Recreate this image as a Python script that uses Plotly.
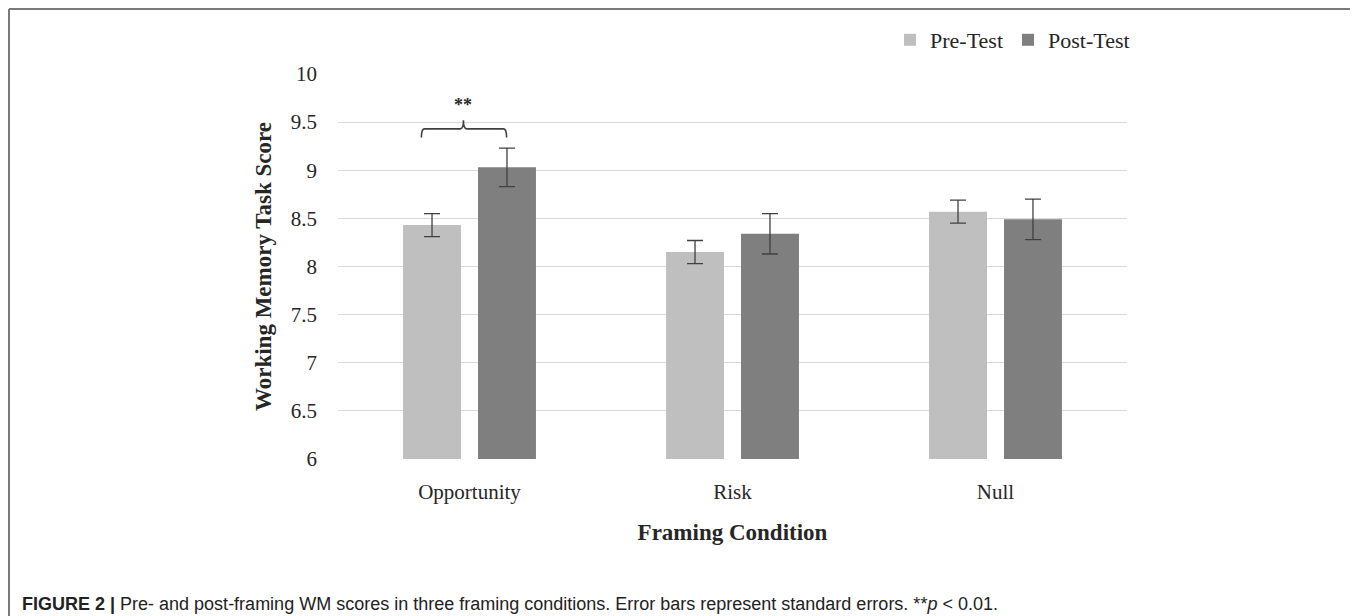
import plotly.graph_objects as go

categories = ["Opportunity", "Risk", "Null"]
pre_test = [8.43, 8.15, 8.57]
pre_err = [0.12, 0.12, 0.12]
post_test = [9.03, 8.34, 8.49]
post_err = [0.20, 0.21, 0.21]
y_ticks = [6, 6.5, 7, 7.5, 8, 8.5, 9, 9.5, 10]

# page body has an 8px default margin, so the figure is drawn 8px smaller
OFF = 8
W, H = 1358 - OFF, 616 - OFF
L, R, T, B = 338 - OFF, 1358 - 1127, 74 - OFF, 616 - 459
pw = W - L - R
ph = H - T - B

def px(sx):
    return (sx - OFF - L) / pw

def py(sy):
    return (H - B - (sy - OFF)) / ph

xs = list(range(len(categories)))
serif = "Liberation Serif, Times New Roman, serif"
txt = "#262626"
err_color = "#404040"

fig = go.Figure()
fig.add_trace(go.Bar(
    x=xs, y=pre_test, name="Pre-Test", marker=dict(color="#bfbfbf", line=dict(width=0)),
    error_y=dict(type="data", array=pre_err, color=err_color, thickness=1.3, width=8),
))
fig.add_trace(go.Bar(
    x=xs, y=post_test, name="Post-Test", marker=dict(color="#7f7f7f", line=dict(width=0)),
    error_y=dict(type="data", array=post_err, color=err_color, thickness=1.3, width=8),
))

# significance bracket over Opportunity
x0, x1, xc, d = -0.183, 0.141, -0.023, 0.012
yb, yl, yt = 9.43, 9.34, 9.52
path = (f"M {x0},{yl} Q {x0},{yb} {x0+d},{yb} L {xc-d},{yb} Q {xc},{yb} {xc},{yt} "
        f"Q {xc},{yb} {xc+d},{yb} L {x1-d},{yb} Q {x1},{yb} {x1},{yl}")
shapes = [dict(type="path", xref="x", yref="y", path=path,
               line=dict(color="#404040", width=1.6))]

# figure frame (open at the bottom)
fc = "#7a7a7a"
lx, rx, ty = 9, 1356, 9
shapes += [
    dict(type="line", xref="paper", yref="paper", x0=px(lx), x1=px(lx), y0=py(ty), y1=py(640),
         line=dict(color=fc, width=2)),
    dict(type="line", xref="paper", yref="paper", x0=px(rx), x1=px(rx), y0=py(ty), y1=py(640),
         line=dict(color=fc, width=2)),
    dict(type="line", xref="paper", yref="paper", x0=px(lx), x1=px(rx), y0=py(ty), y1=py(ty),
         line=dict(color=fc, width=2)),
]

annotations = [
    dict(x=xc, y=9.68, xref="x", yref="y", text="<b>**</b>", showarrow=False,
         font=dict(family=serif, size=18, color=txt)),
    dict(x=px(20), y=py(604), xref="paper", yref="paper", xanchor="left", yanchor="middle",
         showarrow=False, align="left",
         text=("<b>FIGURE 2 |</b> Pre- and post-framing WM scores in three framing conditions. "
               "Error bars represent standard errors. **<i>p</i> &lt; 0.01."),
         font=dict(family="Liberation Sans, Arial, sans-serif", size=18, color="#222222")),
]

fig.update_layout(
    width=W, height=H,
    margin=dict(l=L, r=R, t=T, b=B, autoexpand=False),
    paper_bgcolor="white", plot_bgcolor="white",
    barmode="group", bargap=0.43, bargroupgap=0.227,
    showlegend=True,
    legend=dict(orientation="h", x=px(890), y=py(40), xanchor="left", yanchor="middle",
                font=dict(family=serif, size=22, color=txt),
                itemwidth=30, traceorder="normal", bgcolor="rgba(0,0,0,0)"),
    shapes=shapes,
    annotations=annotations,
    xaxis=dict(
        range=[-0.5, 2.5], tickvals=xs, ticktext=categories,
        showgrid=False, zeroline=False, showline=False, ticks="", ticklabelstandoff=18,
        tickfont=dict(family=serif, size=21, color=txt),
        title=dict(text="<b>Framing Condition</b>", font=dict(family=serif, size=23, color=txt),
                   standoff=20),
        automargin=False,
    ),
    yaxis=dict(
        range=[6, 10], tickvals=y_ticks, ticktext=[f"{v:g}" for v in y_ticks],
        showgrid=True, gridcolor="#d9d9d9", gridwidth=1.2, zeroline=False, showline=False,
        ticks="", ticklabelstandoff=20,
        tickfont=dict(family=serif, size=21, color=txt),
        title=dict(text="<b>Working Memory Task Score</b>", font=dict(family=serif, size=23, color=txt),
                   standoff=12),
        automargin=False,
    ),
)

fig.write_html("out.html")
